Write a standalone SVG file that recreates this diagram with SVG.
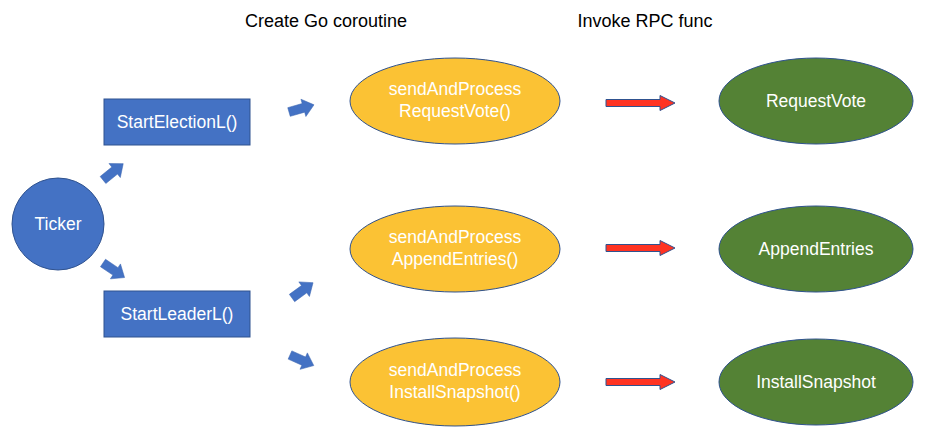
<svg xmlns="http://www.w3.org/2000/svg" width="946" height="443" viewBox="0 0 946 443">
<style>
text{font-family:"Liberation Sans",Arial,sans-serif;font-size:17.5px;text-anchor:middle;dominant-baseline:central}
.w{fill:#fff}
.t{fill:#000;font-size:18px}
.blue{fill:#4472C4;stroke:#2F528F;stroke-width:1}
.gold{fill:#FBC234;stroke:#2F528F;stroke-width:1}
.green{fill:#548235;stroke:#2F528F;stroke-width:1}
.ba{fill:#4472C4;stroke:#3A64B0;stroke-width:0.5}
.ra{fill:#FF3322;stroke:#2F528F;stroke-width:1}
</style>
<defs>
<path id="bArrow" d="M0,-4.5 L15,-4.5 L15,-9 L26,0 L15,9 L15,4.5 L0,4.5 Z"/>
<path id="rArrow" d="M0,-3.5 L54,-3.5 L54,-7.5 L69,0 L54,7.5 L54,3.5 L0,3.5 Z"/>
</defs>
<rect width="946" height="443" fill="#fff"/>
<text class="t" x="326" y="21">Create Go coroutine</text>
<text class="t" x="645" y="21">Invoke RPC func</text>
<g id="connectors">
<use href="#bArrow" class="ba" transform="translate(103,180) rotate(-39)"/>
<use href="#bArrow" class="ba" transform="translate(103,263) rotate(34)"/>
<use href="#bArrow" class="ba" transform="translate(289,112) rotate(-16)"/>
<use href="#bArrow" class="ba" transform="translate(292,298) rotate(-36)"/>
<use href="#bArrow" class="ba" transform="translate(290,355) rotate(24)"/>
<use href="#rArrow" class="ra" transform="translate(606,103)"/>
<use href="#rArrow" class="ra" transform="translate(606,248)"/>
<use href="#rArrow" class="ra" transform="translate(606,382)"/>
</g>
<g id="ticker"><circle class="blue" cx="58" cy="224" r="46"/><text class="w" x="58" y="224">Ticker</text></g>
<g id="startElection"><rect class="blue" x="104" y="99" width="146" height="46"/><text class="w" x="177" y="122">StartElectionL()</text></g>
<g id="startLeader"><rect class="blue" x="104" y="291" width="146" height="46"/><text class="w" x="177" y="314">StartLeaderL()</text></g>
<g id="sendRV"><ellipse class="gold" cx="455" cy="101" rx="105" ry="43"/><text class="w" x="455" y="89">sendAndProcess</text><text class="w" x="455" y="111">RequestVote()</text></g>
<g id="sendAE"><ellipse class="gold" cx="455" cy="249" rx="105" ry="43"/><text class="w" x="455" y="237">sendAndProcess</text><text class="w" x="455" y="259">AppendEntries()</text></g>
<g id="sendIS"><ellipse class="gold" cx="455" cy="382" rx="105" ry="44"/><text class="w" x="455" y="370">sendAndProcess</text><text class="w" x="455" y="392">InstallSnapshot()</text></g>
<g id="rpcRV"><ellipse class="green" cx="816" cy="101" rx="97" ry="43"/><text class="w" x="816" y="101">RequestVote</text></g>
<g id="rpcAE"><ellipse class="green" cx="816" cy="249" rx="97" ry="43"/><text class="w" x="816" y="249">AppendEntries</text></g>
<g id="rpcIS"><ellipse class="green" cx="816" cy="382" rx="97" ry="43"/><text class="w" x="816" y="382">InstallSnapshot</text></g>
</svg>
